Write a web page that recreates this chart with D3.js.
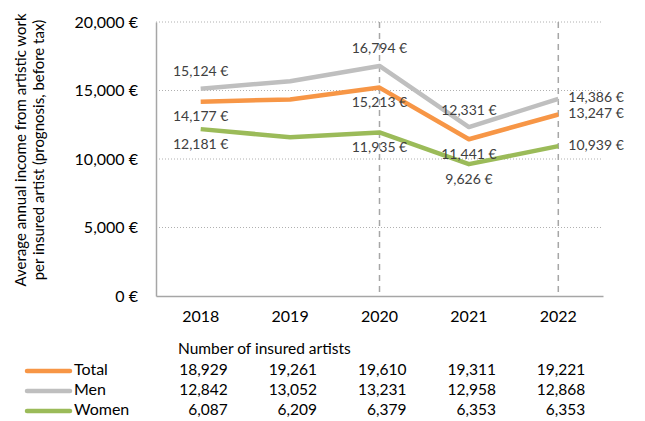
<!DOCTYPE html>
<html>
<head>
<meta charset="utf-8">
<script src="https://cdn.jsdelivr.net/npm/d3@7"></script>
<style>
  body { margin: 0; background: #fff; }
  text { font-family: Lato, "Open Sans", sans-serif; }
</style>
</head>
<body>
<div id="chart"></div>
<script>
// chart data
const years = ["2018", "2019", "2020", "2021", "2022"];
const total = [14177, 14350, 15213, 11441, 13247];
const men = [15124, 15680, 16794, 12331, 14386];
const women = [12181, 11590, 11935, 9626, 10939];
const yTicks = [0, 5000, 10000, 15000, 20000];
const markedYears = ["2020", "2022"];

// insured artists table
const countTotal = ["18,929", "19,261", "19,610", "19,311", "19,221"];
const countMen = ["12,842", "13,052", "13,231", "12,958", "12,868"];
const countWomen = ["6,087", "6,209", "6,379", "6,353", "6,353"];

const width = 645;
const height = 421;
const margin = { left: 156, right: 42, top: 22, bottom: 125 };

const fmt = d3.format(",");
const euro = v => fmt(v) + " €";

const svg = d3.select("#chart")
    .append("svg")
    .attr("width", width)
    .attr("height", height);

const x = d3.scaleBand()
    .domain(years)
    .range([margin.left, width - margin.right]);

const y = d3.scaleLinear()
    .domain([0, 20000])
    .range([height - margin.bottom, margin.top]);

// dotted gridlines
svg.append("g")
  .selectAll("line")
  .data(yTicks.filter(d => d > 0))
  .enter().append("line")
    .attr("x1", margin.left)
    .attr("x2", width - margin.right)
    .attr("y1", d => y(d))
    .attr("y2", d => y(d))
    .attr("stroke", "#b0b0b0")
    .attr("stroke-width", 1)
    .attr("stroke-dasharray", "1,2");

// dashed year markers
svg.append("g")
  .selectAll("line")
  .data(markedYears)
  .enter().append("line")
    .attr("x1", d => x(d) + x.bandwidth() / 2)
    .attr("x2", d => x(d) + x.bandwidth() / 2)
    .attr("y1", y(20000))
    .attr("y2", y(0))
    .attr("stroke", "#a6a6a6")
    .attr("stroke-width", 1.5)
    .attr("stroke-dasharray", "6,5");

// axes
const yAxis = svg.append("g")
    .attr("transform", `translate(${margin.left},0)`)
    .call(d3.axisLeft(y).tickValues(yTicks).tickFormat(euro).tickSize(0).tickPadding(18));
yAxis.select(".domain").attr("stroke", "#a6a6a6").attr("stroke-width", 1.5);
yAxis.selectAll("text").attr("font-size", 16).attr("fill", "#000");

const xAxis = svg.append("g")
    .attr("transform", `translate(0,${y(0)})`)
    .call(d3.axisBottom(x).tickSize(0).tickPadding(15));
xAxis.select(".domain").attr("stroke", "#a6a6a6").attr("stroke-width", 1.5);
xAxis.selectAll("text").attr("font-size", 16).attr("fill", "#000");

// y title
const ytitle = svg.append("text")
    .attr("transform", "translate(26,150) rotate(-90)")
    .attr("text-anchor", "middle")
    .attr("font-size", 15)
    .attr("fill", "#000");
ytitle.append("tspan").attr("x", 0).attr("dy", 0).text("Average annual income from artistic work");
ytitle.append("tspan").attr("x", 0).attr("dy", 18).text("per insured artist (prognosis, before tax)");

// series
const series = [
  { name: "Women", values: women, color: "#9bbb59", counts: countWomen, place: ["below", null, "below", "below", "right"] },
  { name: "Men", values: men, color: "#bfbfbf", counts: countMen, place: ["above", null, "above", "above", "right"] },
  { name: "Total", values: total, color: "#f79646", counts: countTotal, place: ["below", null, "below", "below", "right"] }
];

const line = d3.line()
    .x((d, i) => x(years[i]) + x.bandwidth() / 2)
    .y(d => y(d));

svg.append("g")
  .selectAll("path")
  .data(series)
  .enter().append("path")
    .attr("d", d => line(d.values))
    .attr("fill", "none")
    .attr("stroke", d => d.color)
    .attr("stroke-width", 4.5)
    .attr("stroke-linejoin", "round");

// data labels
series.forEach(s => {
  s.values.forEach((v, i) => {
    const p = s.place[i];
    if (!p) return;
    const cx = x(years[i]) + x.bandwidth() / 2;
    const cy = y(v);
    const t = svg.append("text")
        .attr("font-size", 14)
        .attr("fill", "#404040")
        .attr("dominant-baseline", "middle")
        .text(euro(v));
    if (p === "right") {
      t.attr("x", cx + 10).attr("y", cy);
    } else if (p === "above") {
      t.attr("x", cx).attr("y", cy - 16).attr("text-anchor", "middle");
    } else {
      t.attr("x", cx).attr("y", cy + 16).attr("text-anchor", "middle");
    }
  });
});

// table of insured artists
svg.append("text")
    .attr("x", 178)
    .attr("y", 350)
    .attr("dominant-baseline", "middle")
    .attr("font-size", 15.5)
    .attr("fill", "#000")
    .text("Number of insured artists");

const rows = [series[2], series[1], series[0]];
rows.forEach((s, r) => {
  const ry = 371 + r * 20;
  svg.append("line")
      .attr("x1", 27).attr("x2", 70)
      .attr("y1", ry).attr("y2", ry)
      .attr("stroke", s.color)
      .attr("stroke-width", 4.5)
      .attr("stroke-linecap", "round");
  svg.append("text")
      .attr("x", 74).attr("y", ry)
      .attr("dominant-baseline", "middle")
      .attr("font-size", 16)
      .attr("fill", "#000")
      .text(s.name);
  s.counts.forEach((c, i) => {
    svg.append("text")
        .attr("x", x(years[i]) + x.bandwidth() / 2 + 27)
        .attr("y", ry)
        .attr("text-anchor", "end")
        .attr("dominant-baseline", "middle")
        .attr("font-size", 15.5)
        .attr("fill", "#000")
        .text(c);
  });
});
</script>
</body>
</html>
